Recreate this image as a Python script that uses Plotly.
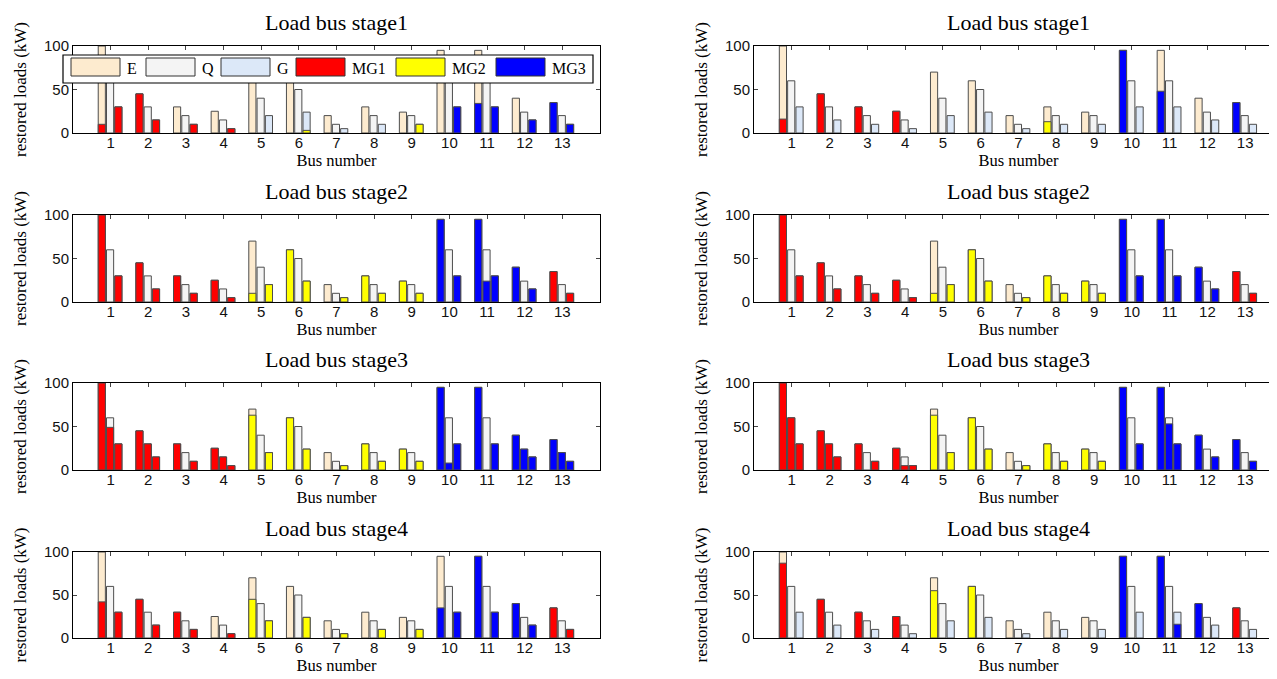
import plotly.graph_objects as go
from plotly.subplots import make_subplots

# ---------------- data ----------------
buses = list(range(1, 14))
bus_labels = [str(b) for b in buses]

# total loads per bus (kW) for the three load classes
E_total = [100, 45, 30, 25, 70, 60, 20, 30, 24, 95, 95, 40, 35]
Q_total = [60, 30, 20, 15, 40, 50, 10, 20, 20, 60, 60, 24, 20]
G_total = [30, 15, 10, 5, 20, 24, 5, 10, 10, 30, 30, 15, 10]

# restored amount and supplying microgrid (0 none, 1 MG1, 2 MG2, 3 MG3)
# --- left column
L1_E_val = [10, 45, 0, 0, 0, 0, 0, 0, 0, 0, 34, 0, 35]
L1_E_mg  = [1, 1, 0, 0, 0, 0, 0, 0, 0, 0, 3, 0, 3]
L1_Q_val = [0] * 13
L1_Q_mg  = [0] * 13
L1_G_val = [30, 15, 10, 5, 0, 3, 0, 0, 10, 30, 30, 15, 10]
L1_G_mg  = [1, 1, 1, 1, 0, 2, 0, 0, 2, 3, 3, 3, 3]

L2_E_val = [100, 45, 30, 25, 10, 60, 0, 30, 24, 95, 95, 40, 35]
L2_E_mg  = [1, 1, 1, 1, 2, 2, 0, 2, 2, 3, 3, 3, 1]
L2_Q_val = [0, 0, 0, 0, 0, 0, 0, 0, 0, 0, 24, 0, 0]
L2_Q_mg  = [0, 0, 0, 0, 0, 0, 0, 0, 0, 0, 3, 0, 0]
L2_G_val = [30, 15, 10, 5, 20, 24, 5, 10, 10, 30, 30, 15, 10]
L2_G_mg  = [1, 1, 1, 1, 2, 2, 2, 2, 2, 3, 3, 3, 1]

L3_E_val = [100, 45, 30, 25, 63, 60, 0, 30, 24, 95, 95, 40, 35]
L3_E_mg  = [1, 1, 1, 1, 2, 2, 0, 2, 2, 3, 3, 3, 3]
L3_Q_val = [49, 30, 0, 15, 0, 0, 0, 0, 0, 8, 0, 24, 20]
L3_Q_mg  = [1, 1, 0, 1, 0, 0, 0, 0, 0, 3, 0, 3, 3]
L3_G_val = [30, 15, 10, 5, 20, 24, 5, 10, 10, 30, 30, 15, 10]
L3_G_mg  = [1, 1, 1, 1, 2, 2, 2, 2, 2, 3, 3, 3, 3]

L4_E_val = [42, 45, 30, 0, 45, 0, 0, 0, 0, 35, 95, 40, 35]
L4_E_mg  = [1, 1, 1, 0, 2, 0, 0, 0, 0, 3, 3, 3, 1]
L4_Q_val = [0] * 13
L4_Q_mg  = [0] * 13
L4_G_val = [30, 15, 10, 5, 20, 24, 5, 10, 10, 30, 30, 15, 10]
L4_G_mg  = [1, 1, 1, 1, 2, 2, 2, 2, 2, 3, 3, 3, 1]

# --- right column
R1_E_val = [16, 45, 30, 25, 0, 0, 0, 13, 0, 95, 48, 0, 35]
R1_E_mg  = [1, 1, 1, 1, 0, 0, 0, 2, 0, 3, 3, 0, 3]
R1_Q_val = [0] * 13
R1_Q_mg  = [0] * 13
R1_G_val = [0] * 13
R1_G_mg  = [0] * 13

R2_E_val = [100, 45, 30, 25, 10, 60, 0, 30, 24, 95, 95, 40, 35]
R2_E_mg  = [1, 1, 1, 1, 2, 2, 0, 2, 2, 3, 3, 3, 1]
R2_Q_val = [0] * 13
R2_Q_mg  = [0] * 13
R2_G_val = [30, 15, 10, 5, 20, 24, 5, 10, 10, 30, 30, 15, 10]
R2_G_mg  = [1, 1, 1, 1, 2, 2, 2, 2, 2, 3, 3, 3, 1]

R3_E_val = [100, 45, 30, 25, 63, 60, 0, 30, 24, 95, 95, 40, 35]
R3_E_mg  = [1, 1, 1, 1, 2, 2, 0, 2, 2, 3, 3, 3, 3]
R3_Q_val = [60, 30, 0, 5, 0, 0, 0, 0, 0, 0, 53, 0, 0]
R3_Q_mg  = [1, 1, 0, 1, 0, 0, 0, 0, 0, 0, 3, 0, 0]
R3_G_val = [30, 15, 10, 5, 20, 24, 5, 10, 10, 30, 30, 15, 10]
R3_G_mg  = [1, 1, 1, 1, 2, 2, 2, 2, 2, 3, 3, 3, 3]

R4_E_val = [87, 45, 30, 25, 55, 60, 0, 0, 0, 95, 95, 40, 35]
R4_E_mg  = [1, 1, 1, 1, 2, 2, 0, 0, 0, 3, 3, 3, 1]
R4_Q_val = [0] * 13
R4_Q_mg  = [0] * 13
R4_G_val = [0, 0, 0, 0, 0, 0, 0, 0, 0, 0, 16, 0, 0]
R4_G_mg  = [0, 0, 0, 0, 0, 0, 0, 0, 0, 0, 3, 0, 0]

stage_titles = ["Load bus stage1", "Load bus stage2", "Load bus stage3", "Load bus stage4"]

panels = [
    (1, 1, (L1_E_val, L1_E_mg), (L1_Q_val, L1_Q_mg), (L1_G_val, L1_G_mg)),
    (2, 1, (L2_E_val, L2_E_mg), (L2_Q_val, L2_Q_mg), (L2_G_val, L2_G_mg)),
    (3, 1, (L3_E_val, L3_E_mg), (L3_Q_val, L3_Q_mg), (L3_G_val, L3_G_mg)),
    (4, 1, (L4_E_val, L4_E_mg), (L4_Q_val, L4_Q_mg), (L4_G_val, L4_G_mg)),
    (1, 2, (R1_E_val, R1_E_mg), (R1_Q_val, R1_Q_mg), (R1_G_val, R1_G_mg)),
    (2, 2, (R2_E_val, R2_E_mg), (R2_Q_val, R2_Q_mg), (R2_G_val, R2_G_mg)),
    (3, 2, (R3_E_val, R3_E_mg), (R3_Q_val, R3_Q_mg), (R3_G_val, R3_G_mg)),
    (4, 2, (R4_E_val, R4_E_mg), (R4_Q_val, R4_Q_mg), (R4_G_val, R4_G_mg)),
]

# ---------------- style ----------------
class_names = ["E", "Q", "G"]
class_colors = ["#FDEBCF", "#F4F4F4", "#DCE8F8"]
mg_names = ["MG1", "MG2", "MG3"]
mg_colors = ["#FF0000", "#FFFF00", "#0000FF"]
slot_offset = [-0.33, -0.11, 0.11]   # left edge of each bar relative to the bus
bar_w = 0.19
edge = dict(color="#4d4d4d", width=1)
SERIF = "Liberation Serif"
SANS = "Liberation Sans"

fig = make_subplots(rows=4, cols=2)

totals = [E_total, Q_total, G_total]
for (row, col, *slots) in panels:
    for k in range(3):
        fig.add_trace(go.Bar(
            x=buses, y=totals[k], offset=slot_offset[k], width=bar_w,
            marker=dict(color=class_colors[k], line=edge),
            name=class_names[k], showlegend=False,
            hoverinfo="skip"), row=row, col=col)
    for m in range(3):
        for k in range(3):
            vals, mgs = slots[k]
            yv = [v if g == m + 1 and v > 0 else None for v, g in zip(vals, mgs)]
            fig.add_trace(go.Bar(
                x=buses, y=yv, offset=slot_offset[k], width=bar_w,
                marker=dict(color=mg_colors[m], line=edge),
                name=mg_names[m], showlegend=False, hoverinfo="skip"),
                row=row, col=col)

# ---------------- layout ----------------
W, H = 1277, 679
col_dom = {1: [65 / W, 592 / W], 2: [746 / W, 1275 / W]}
row_px = {1: (38, 125), 2: (207, 294), 3: (375, 462), 4: (544, 630)}

for row in range(1, 5):
    for col in range(1, 3):
        idx = (row - 1) * 2 + col
        sfx = "" if idx == 1 else str(idx)
        top, bot = row_px[row]
        fig.layout["xaxis" + sfx].update(
            domain=col_dom[col], range=[0, 14], tickmode="array",
            tickvals=buses, ticktext=bus_labels, ticks="inside", ticklen=4,
            showline=True, linecolor="black", linewidth=1, mirror="ticks",
            showgrid=False, zeroline=False, layer="below traces",
            ticklabelstandoff=-4,
            tickfont=dict(family=SANS, size=15, color="#111"),
            title=dict(text="Bus number", font=dict(family=SERIF, size=16.5, color="black"),
                       standoff=0),
            automargin=False)
        fig.layout["yaxis" + sfx].update(
            domain=[1 - bot / H, 1 - top / H], range=[0, 100], tickmode="array",
            tickvals=[0, 50, 100], ticks="inside", ticklen=4,
            showline=True, linecolor="black", linewidth=1, mirror="ticks",
            showgrid=False, zeroline=False, layer="below traces",
            tickfont=dict(family=SANS, size=15, color="#111"),
            title=dict(text="restored loads (kW)", font=dict(family=SERIF, size=17, color="black"),
                       standoff=13),
            automargin=False)
        fig.add_annotation(
            text=stage_titles[row - 1], xref=f"x{sfx} domain", yref=f"y{sfx} domain",
            x=0.5, y=1, xanchor="center", yanchor="bottom", yshift=10, showarrow=False,
            borderpad=0, font=dict(family=SERIF, size=22, color="black"))

# ---------------- legend (drawn in the first panel, matching the large swatches) ----------------
leg_names = class_names + mg_names
leg_colors = class_colors + mg_colors
leg_entry_w = [75, 75, 75, 100, 100, 100]
box_l, box_r, box_t, box_b = 55, 585, 47, 75
sw_w, sw_t, sw_b = 49, 50, 68


def px_x(v):
    return v / W


def px_y(v):
    return 1 - v / H


fig.add_shape(type="rect", xref="paper", yref="paper",
              x0=px_x(box_l), x1=px_x(box_r), y0=px_y(box_b), y1=px_y(box_t),
              fillcolor="white", line=dict(color="black", width=1.2), layer="above")
xs = 63
for name, color, ew in zip(leg_names, leg_colors, leg_entry_w):
    fig.add_shape(type="rect", xref="paper", yref="paper",
                  x0=px_x(xs), x1=px_x(xs + sw_w), y0=px_y(sw_b), y1=px_y(sw_t),
                  fillcolor=color, line=dict(color="#333", width=1), layer="above")
    fig.add_annotation(text=name, xref="paper", yref="paper",
                       x=px_x(xs + sw_w + 5), y=px_y((sw_t + sw_b) / 2 + 1),
                       xanchor="left", yanchor="middle", showarrow=False,
                       font=dict(family=SERIF, size=16, color="black"))
    xs += ew

fig.update_layout(
    width=W, height=H, barmode="overlay", showlegend=False,
    margin=dict(l=0, r=0, t=0, b=0),
    plot_bgcolor="white", paper_bgcolor="white",
)

fig.write_html("out.html")
